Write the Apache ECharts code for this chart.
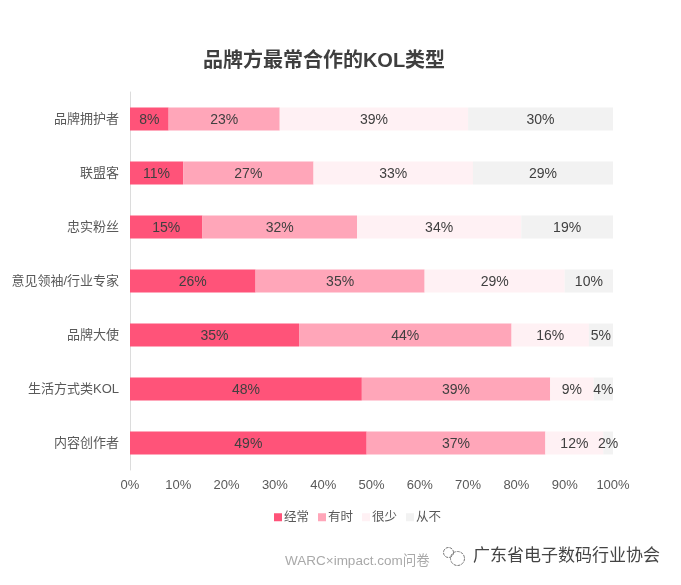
<!DOCTYPE html>
<html><head><meta charset="utf-8">
<style>html,body{margin:0;padding:0;background:#fff}#c{width:681px;height:585px}</style>
<script src="https://cdn.jsdelivr.net/npm/echarts@6/dist/echarts.min.js"></script>
</head><body><div id="c"></div>
<script>
const categories = ['品牌拥护者','联盟客','忠实粉丝','意见领袖/行业专家','品牌大使','生活方式类KOL','内容创作者'];
const often = [8,11,15,26,35,48,49];
const sometimes = [23,27,32,35,44,39,37];
const rarely = [39,33,34,29,16,9,12];
const never = [30,29,19,10,5,4,2];
const seriesNames = ['经常','有时','很少','从不'];
const colors = ['#FF5379','#FFA6B9','#FFF1F4','#F2F2F2'];
const font = '"Liberation Sans","Noto Sans CJK SC",sans-serif';
const chart = echarts.init(document.getElementById('c'), null, {renderer:'canvas'});
chart.setOption({
  animation:false,
  backgroundColor:'#fff',
  textStyle:{fontFamily:font},
  title:[
    {text:'品牌方最常合作的KOL类型',left:319,top:46,textAlign:'center',
     textStyle:{fontSize:20,fontWeight:'bold',color:'#3f3f3f',fontFamily:font}},
    {text:'WARC×impact.com问卷',left:280,top:550,
     textStyle:{fontSize:13.5,fontWeight:'normal',color:'#a9a9a9',fontFamily:font}},
    {text:'广东省电子数码行业协会',left:468,top:543,
     textStyle:{fontSize:17,fontWeight:'normal',color:'#444',fontFamily:font}}
  ],
  legend:{
    data:seriesNames,left:269,top:506,itemWidth:8,itemHeight:8,itemGap:9,icon:'rect',
    textStyle:{fontSize:12.5,color:'#595959',fontFamily:font,padding:[0,0,0,-3]}
  },
  grid:{left:130,right:68,top:92,height:378,containLabel:false},
  xAxis:{type:'value',min:0,max:100,interval:10,
    axisLine:{show:false},axisTick:{show:false},splitLine:{show:false},
    axisLabel:{formatter:'{value}%',fontSize:13,color:'#595959',margin:9,fontFamily:font}},
  yAxis:{type:'category',data:categories,inverse:true,
    axisLine:{show:true,lineStyle:{color:'#dcdcdc',width:1}},axisTick:{show:false},
    axisLabel:{fontSize:13,color:'#595959',margin:11,padding:[2,0,0,0],fontFamily:font}},
  series:[often,sometimes,rarely,never].map((d,i)=>({
    name:seriesNames[i],type:'bar',stack:'t',barWidth:23,data:d,
    itemStyle:{color:colors[i]},
    label:{show:true,position:'inside',offset:[0,1],formatter:'{c}%',fontSize:14,color:'#404040',fontFamily:font}
  })),
  graphic:[
    {type:'group',left:441,top:545,children:[
      {type:'circle',shape:{cx:6,cy:5,r:5},style:{fill:'none',stroke:'#777',lineWidth:1,lineDash:[3,1]}},
      {type:'circle',shape:{cx:15,cy:11,r:7},style:{fill:'none',stroke:'#777',lineWidth:1,lineDash:[3,1]}}
    ]}
  ]
});
</script></body></html>
